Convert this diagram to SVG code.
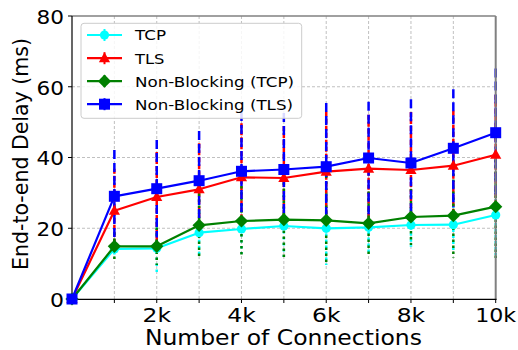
<svg xmlns="http://www.w3.org/2000/svg" xmlns:xlink="http://www.w3.org/1999/xlink" width="518" height="350" viewBox="0 0 518 350">
<style>
text{font-family:"DejaVu Sans","Liberation Sans",sans-serif;fill:#000}
.grid{stroke:#b0b0b0;stroke-width:0.8;stroke-dasharray:3 2;fill:none}
.tick{stroke:#000;stroke-width:1}
.tl{font-size:19.5px}
.eb-b{stroke:#0000ff;stroke-width:2.5;stroke-dasharray:9 4;fill:none}
.eb-r{stroke:#ff0000;stroke-width:2.5;stroke-dasharray:5 2;fill:none}
.eb-g{stroke:#008000;stroke-width:2.5;stroke-dasharray:2.5 3.5;fill:none}
.eb-c{stroke:#00ffff;stroke-width:2.5;stroke-dasharray:2.5 3.5;fill:none}
.ln{fill:none;stroke-width:2.2;stroke-linejoin:round}
.leg{font-size:14.8px}
</style>
<defs>
<circle id="mc" r="4.6" fill="#00ffff"/>
<polygon id="mr" points="0,-6 5.6,4 -5.6,4" fill="#ff0000"/>
<polygon id="mg" points="0,-6.6 6.6,0 0,6.6 -6.6,0" fill="#008000"/>
<rect id="mb" x="-5.5" y="-5.5" width="11" height="11" fill="#0000ff"/>
</defs>
<rect width="518" height="350" fill="#fff"/>
<g id="grid">
<path class="grid" d="M114.37 16V299M156.74 16V299M199.11 16V299M241.48 16V299M283.85 16V299M326.22 16V299M368.59 16V299M410.96 16V299M453.33 16V299"/>
<path class="grid" d="M72 228.25H495.7M72 157.5H495.7M72 86.75H495.7"/>
</g>
<g id="errorbars">
<path class="eb-c" d="M114.37 240V258M156.74 221.6V275M199.11 209.7V255.7M241.48 204V254M283.85 195V257M326.22 191.6V265M368.59 201.6V253M410.96 203.3V246.7M453.33 199.4V250M495.7 175V255"/>
<path class="eb-r" d="M114.37 168.7V252.7M156.74 152V242M199.11 143.3V235.3M241.48 123.3V231.3M283.85 126V230M326.22 111.7V231.7M368.59 114.7V222.7M410.96 112V228M453.33 110.7V220.7M495.7 94.7V214.7"/>
<path class="eb-g" d="M114.37 232.6V260M156.74 227.6V265M199.11 193.6V257M241.48 186V256M283.85 182.4V257M326.22 175.6V265M368.59 191.6V255M410.96 189V245M453.33 173.4V258M495.7 153.4V260"/>
<path class="eb-b" d="M114.37 150V242.6M156.74 140V237.4M199.11 131V230.4M241.48 112V230.6M283.85 113V226M326.22 103V230.4M368.59 101.7V214.3M410.96 99.3V226.7M453.33 89.3V207.3M495.7 68.5V196.9"/>
</g>
<g id="axes">
<line x1="72" y1="16" x2="495.7" y2="16" stroke="#808080" stroke-width="1.3"/>
<line x1="495.7" y1="16" x2="495.7" y2="299.5" stroke="#808080" stroke-width="2"/>
<line x1="72" y1="16" x2="72" y2="299.5" stroke="#000" stroke-width="1.2"/>
<line x1="71.4" y1="299.3" x2="496.5" y2="299.3" stroke="#000" stroke-width="1.2"/>
<path class="tick" d="M68 16H72M68 86.75H72M68 157.5H72M68 228.25H72M68 299.3H72"/>
<path class="tick" d="M114.37 299V303M156.74 299V303M199.11 299V303M241.48 299V303M283.85 299V303M326.22 299V303M368.59 299V303M410.96 299V303M453.33 299V303M495.7 299V303"/>
<g class="tl" text-anchor="end">
<text x="64" y="24" textLength="27.5" lengthAdjust="spacingAndGlyphs">80</text>
<text x="64" y="94.5" textLength="27.5" lengthAdjust="spacingAndGlyphs">60</text>
<text x="64" y="165.3" textLength="27.5" lengthAdjust="spacingAndGlyphs">40</text>
<text x="64" y="236" textLength="27.5" lengthAdjust="spacingAndGlyphs">20</text>
<text x="64" y="307.3" textLength="14" lengthAdjust="spacingAndGlyphs">0</text>
</g>
<g class="tl" text-anchor="middle">
<text x="156.74" y="321.7" textLength="28.5" lengthAdjust="spacingAndGlyphs">2k</text>
<text x="241.48" y="321.7" textLength="28.5" lengthAdjust="spacingAndGlyphs">4k</text>
<text x="326.22" y="321.7" textLength="28.5" lengthAdjust="spacingAndGlyphs">6k</text>
<text x="410.96" y="321.7" textLength="28.5" lengthAdjust="spacingAndGlyphs">8k</text>
<text x="495.7" y="321.7" textLength="41" lengthAdjust="spacingAndGlyphs">10k</text>
</g>
<text x="283.4" y="344.5" font-size="21" text-anchor="middle" textLength="277" lengthAdjust="spacingAndGlyphs">Number of Connections</text>
<text transform="translate(28.3,154) rotate(-90)" font-size="20.5" text-anchor="middle" textLength="232" lengthAdjust="spacingAndGlyphs">End-to-end Delay (ms)</text>
</g>
<g id="series-tcp">
<polyline class="ln" stroke="#00ffff" points="72,299 114.37,249 156.74,248.3 199.11,232.7 241.48,229 283.85,226 326.22,228.3 368.59,227.3 410.96,225 453.33,224.7 495.7,215"/>
<use xlink:href="#mc" x="72" y="299"/><use xlink:href="#mc" x="114.37" y="249"/><use xlink:href="#mc" x="156.74" y="248.3"/><use xlink:href="#mc" x="199.11" y="232.7"/><use xlink:href="#mc" x="241.48" y="229"/><use xlink:href="#mc" x="283.85" y="226"/><use xlink:href="#mc" x="326.22" y="228.3"/><use xlink:href="#mc" x="368.59" y="227.3"/><use xlink:href="#mc" x="410.96" y="225"/><use xlink:href="#mc" x="453.33" y="224.7"/><use xlink:href="#mc" x="495.7" y="215"/>
</g>
<g id="series-tls">
<polyline class="ln" stroke="#ff0000" points="72,299 114.37,210.7 156.74,197 199.11,189.3 241.48,177.3 283.85,178 326.22,171.7 368.59,168.7 410.96,170 453.33,165.7 495.7,154.7"/>
<use xlink:href="#mr" x="72" y="299"/><use xlink:href="#mr" x="114.37" y="210.7"/><use xlink:href="#mr" x="156.74" y="197"/><use xlink:href="#mr" x="199.11" y="189.3"/><use xlink:href="#mr" x="241.48" y="177.3"/><use xlink:href="#mr" x="283.85" y="178"/><use xlink:href="#mr" x="326.22" y="171.7"/><use xlink:href="#mr" x="368.59" y="168.7"/><use xlink:href="#mr" x="410.96" y="170"/><use xlink:href="#mr" x="453.33" y="165.7"/><use xlink:href="#mr" x="495.7" y="154.7"/>
</g>
<g id="series-nb-tcp">
<polyline class="ln" stroke="#008000" points="72,299 114.37,246.3 156.74,246.3 199.11,225.3 241.48,221 283.85,219.7 326.22,220.3 368.59,223.3 410.96,217 453.33,215.7 495.7,206.7"/>
<use xlink:href="#mg" x="72" y="299"/><use xlink:href="#mg" x="114.37" y="246.3"/><use xlink:href="#mg" x="156.74" y="246.3"/><use xlink:href="#mg" x="199.11" y="225.3"/><use xlink:href="#mg" x="241.48" y="221"/><use xlink:href="#mg" x="283.85" y="219.7"/><use xlink:href="#mg" x="326.22" y="220.3"/><use xlink:href="#mg" x="368.59" y="223.3"/><use xlink:href="#mg" x="410.96" y="217"/><use xlink:href="#mg" x="453.33" y="215.7"/><use xlink:href="#mg" x="495.7" y="206.7"/>
</g>
<g id="series-nb-tls">
<polyline class="ln" stroke="#0000ff" points="72,299 114.37,196.3 156.74,188.7 199.11,180.7 241.48,171.3 283.85,169.5 326.22,166.7 368.59,158 410.96,163 453.33,148.3 495.7,132.7"/>
<use xlink:href="#mb" x="72" y="299"/><use xlink:href="#mb" x="114.37" y="196.3"/><use xlink:href="#mb" x="156.74" y="188.7"/><use xlink:href="#mb" x="199.11" y="180.7"/><use xlink:href="#mb" x="241.48" y="171.3"/><use xlink:href="#mb" x="283.85" y="169.5"/><use xlink:href="#mb" x="326.22" y="166.7"/><use xlink:href="#mb" x="368.59" y="158"/><use xlink:href="#mb" x="410.96" y="163"/><use xlink:href="#mb" x="453.33" y="148.3"/><use xlink:href="#mb" x="495.7" y="132.7"/>
</g>
<g id="legend">
<rect x="81" y="23.3" width="220.7" height="95" rx="3" fill="#fff" fill-opacity="0.85" stroke="#cccccc" stroke-width="1"/>
<line x1="87" y1="35" x2="122" y2="35" stroke="#00ffff" stroke-width="2.2"/><line x1="104.5" y1="29" x2="104.5" y2="41" stroke="#00ffff" stroke-width="2"/><use xlink:href="#mc" x="104.5" y="35"/>
<text class="leg" x="135" y="40.3" textLength="31" lengthAdjust="spacingAndGlyphs">TCP</text>
<line x1="87" y1="58.2" x2="122" y2="58.2" stroke="#ff0000" stroke-width="2.2"/><line x1="104.5" y1="52.2" x2="104.5" y2="64.2" stroke="#ff0000" stroke-width="2"/><use xlink:href="#mr" x="104.5" y="58.2"/>
<text class="leg" x="135" y="63.5" textLength="29.5" lengthAdjust="spacingAndGlyphs">TLS</text>
<line x1="87" y1="81.2" x2="122" y2="81.2" stroke="#008000" stroke-width="2.2"/><line x1="104.5" y1="75.2" x2="104.5" y2="87.2" stroke="#008000" stroke-width="2"/><use xlink:href="#mg" x="104.5" y="81.2"/>
<text class="leg" x="135" y="86.5" textLength="159" lengthAdjust="spacingAndGlyphs">Non-Blocking (TCP)</text>
<line x1="87" y1="104.2" x2="122" y2="104.2" stroke="#0000ff" stroke-width="2.2"/><line x1="104.5" y1="98.2" x2="104.5" y2="110.2" stroke="#0000ff" stroke-width="2"/><use xlink:href="#mb" x="104.5" y="104.2"/>
<text class="leg" x="135" y="109.5" textLength="158" lengthAdjust="spacingAndGlyphs">Non-Blocking (TLS)</text>
</g>
</svg>
